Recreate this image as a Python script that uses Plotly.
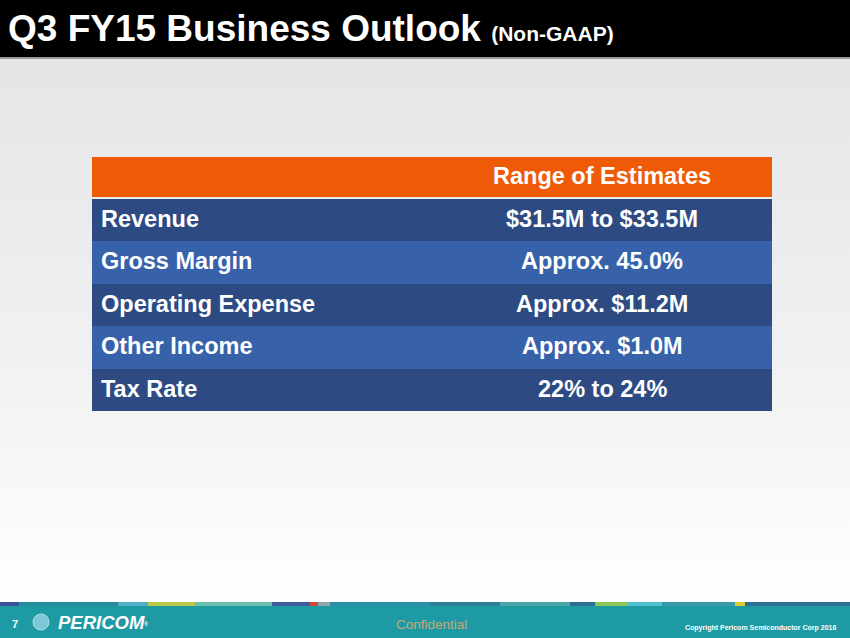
"""Q3 FY15 business outlook slide: range-of-estimates table."""

import base64

import plotly.graph_objects as go

W, H = 850, 638

# table content
header = "Range of Estimates"
items = ["Revenue", "Gross Margin", "Operating Expense", "Other Income", "Tax Rate"]
estimates = [
    "$31.5M to $33.5M",
    "Approx. 45.0%",
    "Approx. $11.2M",
    "Approx. $1.0M",
    "22% to 24%",
]

ORANGE = "#EE5A06"
DARK = "#2D4B82"
LIGHT = "#3762AA"
TEAL = "#1D9AA3"
FONT = "Liberation Sans, Arial, sans-serif"


def px(x):
    return x / W


def py(y):
    return 1 - y / H


# soft grey-to-white slide background
svg = (
    '<svg xmlns="http://www.w3.org/2000/svg" width="10" height="100" preserveAspectRatio="none">'
    '<defs><linearGradient id="g" x1="0" y1="0" x2="0" y2="1">'
    '<stop offset="0" stop-color="#E4E5E7"/><stop offset="0.6" stop-color="#F2F2F3"/>'
    '<stop offset="1" stop-color="#FFFFFF"/></linearGradient></defs>'
    '<rect width="10" height="100" fill="url(#g)"/></svg>'
)
bg_src = "data:image/svg+xml;base64," + base64.b64encode(svg.encode()).decode()

rows = [header] + items
colors = [ORANGE] + [DARK if i % 2 == 0 else LIGHT for i in range(len(items))]
widths = [0.95] + [1.0] * len(items)

fig = go.Figure(
    go.Bar(
        y=rows,
        x=[1] * len(rows),
        orientation="h",
        width=widths,
        marker=dict(color=colors, line=dict(width=0)),
        hoverinfo="skip",
    )
)

cell_font = dict(family=FONT, size=23.5, color="white", weight="bold")
annotations = [
    dict(x=0.75, y=header, xref="x", yref="y", text=header, showarrow=False,
         xanchor="center", yshift=1, font=cell_font)
]
for name, est in zip(items, estimates):
    annotations.append(dict(x=0.011, y=name, xref="x", yref="y", text=name,
                            showarrow=False, xanchor="left", yshift=1, font=cell_font))
    annotations.append(dict(x=0.75, y=name, xref="x", yref="y", text=est,
                            showarrow=False, xanchor="center", yshift=1, font=cell_font))

# title bar
annotations.append(dict(
    x=px(6), y=py(28), xref="paper", yref="paper", xanchor="left", yanchor="middle",
    showarrow=False,
    text="Q3 FY15 Business Outlook <span style='font-size:21px'>(Non-GAAP)</span>",
    font=dict(family=FONT, size=37, color="white", weight="bold"),
))

# footer
annotations += [
    dict(x=px(10), y=py(624), xref="paper", yref="paper", xanchor="left", yanchor="middle",
         showarrow=False, text="7", font=dict(family=FONT, size=11, color="white", weight="bold")),
    dict(x=px(56), y=py(622), xref="paper", yref="paper", xanchor="left", yanchor="middle",
         showarrow=False, text="<i>PERICOM</i><span style='font-size:7px'><sup>®</sup></span>",
         font=dict(family=FONT, size=18.5, color="white", weight="bold")),
    dict(x=px(432), y=py(624), xref="paper", yref="paper", xanchor="center", yanchor="middle",
         showarrow=False, text="Confidential", font=dict(family=FONT, size=13.5, color="#C9A878")),
    dict(x=px(838), y=py(628), xref="paper", yref="paper", xanchor="right", yanchor="middle",
         showarrow=False, text="Copyright Pericom Semiconductor Corp 2016",
         font=dict(family=FONT, size=7, color="white", weight="bold")),
]

# coloured strip on top of the footer band
strip = [
    (0, 19, "#3A4F96"), (19, 118, "#268C9C"), (118, 148, "#53AFC8"), (148, 195, "#B9C646"),
    (195, 272, "#6CC0B0"), (272, 310, "#3F5B9E"), (310, 318, "#C84A3A"), (318, 330, "#8FA8B0"),
    (330, 430, "#2B8EA8"), (430, 500, "#2F7F98"), (500, 570, "#4AA6A8"), (570, 595, "#2D6E95"),
    (595, 628, "#8CC65A"), (628, 662, "#4FC0D0"), (662, 735, "#3A9AA8"), (735, 745, "#D9C93A"),
    (745, 850, "#2E6F98"),
]

shapes = [
    dict(type="rect", xref="paper", yref="paper", x0=0, x1=1, y0=py(57), y1=1,
         fillcolor="black", line_width=0, layer="below"),
    dict(type="rect", xref="paper", yref="paper", x0=0, x1=1, y0=py(59), y1=py(57),
         fillcolor="#9A9A9A", line_width=0, layer="below"),
    dict(type="rect", xref="paper", yref="paper", x0=0, x1=1, y0=0, y1=py(605),
         fillcolor=TEAL, line_width=0, layer="below"),
    dict(type="circle", xref="paper", yref="paper", x0=px(33), x1=px(49), y0=py(630), y1=py(614),
         fillcolor="#7CC8D8", line=dict(color="#A8E0EA", width=1), layer="above"),
]
for x0, x1, c in strip:
    shapes.append(dict(type="rect", xref="paper", yref="paper", x0=px(x0), x1=px(x1),
                       y0=py(606), y1=py(602), fillcolor=c, line_width=0, layer="below"))

fig.update_layout(
    width=W, height=H,
    margin=dict(l=0, r=0, t=0, b=0),
    paper_bgcolor="white", plot_bgcolor="rgba(0,0,0,0)",
    showlegend=False,
    bargap=0,
    xaxis=dict(domain=[px(92), px(772)], range=[0, 1], visible=False, fixedrange=True),
    yaxis=dict(domain=[py(411), py(156)], autorange="reversed", visible=False,
               categoryorder="array", categoryarray=rows, fixedrange=True),
    images=[dict(source=bg_src, xref="paper", yref="paper", x=0, y=py(59), sizex=1,
                 sizey=py(59) - py(602), sizing="stretch", xanchor="left", yanchor="top",
                 layer="below")],
    shapes=shapes,
    annotations=annotations,
)

fig.write_html(
    "out.html",
    config={"displayModeBar": False},
    post_script="document.body.style.margin='0';document.body.style.overflow='hidden';",
)
